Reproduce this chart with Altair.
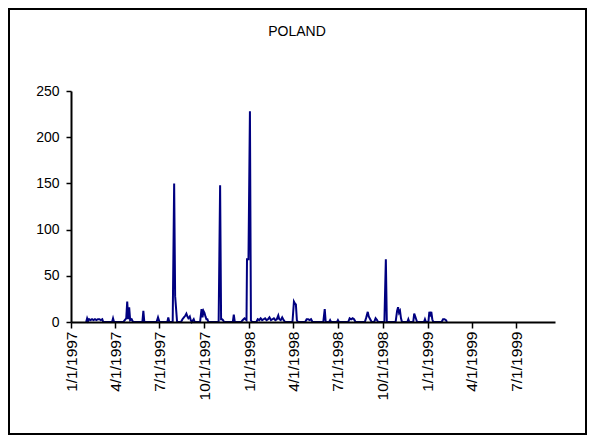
import altair as alt
import pandas as pd

# ---- data ----
dates = [
    "1997-02-01", "1997-02-03", "1997-02-05", "1997-02-07", "1997-02-10", "1997-02-13",
    "1997-02-16", "1997-02-19", "1997-02-22", "1997-02-25", "1997-02-28", "1997-03-03",
    "1997-03-06", "1997-03-08", "1997-03-26", "1997-03-28", "1997-03-30", "1997-04-18",
    "1997-04-21", "1997-04-24", "1997-04-26", "1997-04-28", "1997-04-30", "1997-05-02",
    "1997-05-05", "1997-05-08", "1997-05-27", "1997-05-29", "1997-05-31", "1997-06-25",
    "1997-06-28", "1997-07-01", "1997-07-17", "1997-07-19", "1997-07-21", "1997-07-28",
    "1997-07-31", "1997-08-02", "1997-08-06", "1997-08-14", "1997-08-17", "1997-08-20",
    "1997-08-23", "1997-08-25", "1997-08-27", "1997-08-29", "1997-09-01", "1997-09-03",
    "1997-09-05", "1997-09-09", "1997-09-11", "1997-09-22", "1997-09-25", "1997-09-27",
    "1997-09-29", "1997-10-01", "1997-10-03", "1997-10-05", "1997-10-07", "1997-10-09",
    "1997-10-30", "1997-11-02", "1997-11-04", "1997-11-06", "1997-11-08", "1997-11-10",
    "1997-11-28", "1997-11-30", "1997-12-02", "1997-12-15", "1997-12-18", "1997-12-20",
    "1997-12-22", "1997-12-24", "1997-12-26", "1997-12-27", "1997-12-30", "1998-01-02",
    "1998-01-04", "1998-01-06", "1998-01-15", "1998-01-18", "1998-01-21", "1998-01-24",
    "1998-01-27", "1998-01-30", "1998-02-02", "1998-02-05", "1998-02-08", "1998-02-11",
    "1998-02-14", "1998-02-17", "1998-02-20", "1998-02-23", "1998-02-26", "1998-03-01",
    "1998-03-03", "1998-03-06", "1998-03-09", "1998-03-12", "1998-03-15", "1998-03-30",
    "1998-04-02", "1998-04-04", "1998-04-06", "1998-04-08", "1998-04-10", "1998-04-25",
    "1998-04-28", "1998-05-01", "1998-05-04", "1998-05-07", "1998-05-10", "1998-06-01",
    "1998-06-04", "1998-06-06", "1998-06-13", "1998-06-15", "1998-06-17", "1998-06-29",
    "1998-07-01", "1998-07-03", "1998-07-22", "1998-07-25", "1998-07-28", "1998-07-31",
    "1998-08-03", "1998-08-06", "1998-08-25", "1998-08-28", "1998-08-31", "1998-09-02",
    "1998-09-05", "1998-09-08", "1998-09-13", "1998-09-16", "1998-09-19", "1998-09-21",
    "1998-10-04", "1998-10-07", "1998-10-09", "1998-10-27", "1998-10-30", "1998-11-01",
    "1998-11-03", "1998-11-05", "1998-11-07", "1998-11-09", "1998-11-20", "1998-11-22",
    "1998-11-24", "1998-12-02", "1998-12-04", "1998-12-06", "1998-12-08", "1998-12-10",
    "1998-12-24", "1998-12-26", "1998-12-28", "1999-01-02", "1999-01-04", "1999-01-06",
    "1999-01-08", "1999-01-10", "1999-01-12", "1999-01-29", "1999-02-01", "1999-02-04",
    "1999-02-07", "1999-02-09",
]
values = [
    0, 4, 1, 3, 2, 3,
    2, 3, 2, 3, 3, 2,
    3, 0, 0, 4, 0, 0,
    2, 4, 22, 3, 16, 2,
    3, 0, 0, 12, 0, 0,
    5, 0, 0, 5, 0, 0,
    150, 28, 0, 0, 3, 5,
    7, 9, 6, 4, 6, 2,
    0, 3, 0, 0, 14, 5,
    12, 10, 6, 3, 3, 0,
    0, 148, 3, 3, 2, 0,
    0, 8, 0, 0, 2, 3,
    4, 3, 2, 68, 68, 228,
    2, 0, 0, 3, 2, 4,
    2, 3, 4, 2, 3, 5,
    2, 3, 4, 2, 3, 7,
    3, 2, 5, 2, 0, 0,
    22, 20, 19, 2, 0, 0,
    3, 3, 2, 3, 0, 0,
    14, 0, 0, 2, 0, 0,
    2, 0, 0, 4, 3, 4,
    3, 0, 0, 5, 11, 6,
    3, 0, 0, 4, 2, 0,
    0, 68, 0, 0, 12, 16,
    10, 12, 4, 0, 0, 3,
    0, 0, 9, 6, 3, 0,
    0, 3, 0, 0, 11, 8,
    11, 3, 0, 0, 3, 3,
    2, 0,
]
tick_dates = [
    "1997-01-01", "1997-04-01", "1997-07-01", "1997-10-01",
    "1998-01-01", "1998-04-01", "1998-07-01", "1998-10-01",
    "1999-01-01", "1999-04-01", "1999-07-01",
]
y_ticks = [0, 50, 100, 150, 200, 250]
title_text = ["POLAND"]

df = pd.DataFrame({"date": pd.to_datetime(dates), "value": values})


def dt(s):
    y, m, d = (int(p) for p in s.split("-"))
    return alt.DateTime(year=y, month=m, date=d)


FONT = "Liberation Sans"
W, H = 484, 231

line = alt.Chart(df).mark_line(color="#000080", strokeWidth=2).encode(
    x=alt.X(
        "date:T",
        title=None,
        scale=alt.Scale(domain=[dt("1997-01-01"), dt("1999-09-18")], nice=False),
        axis=alt.Axis(
            values=[dt(s) for s in tick_dates],
            format="%-m/%-d/%Y",
            labelAngle=-90,
            labelFont=FONT,
            labelFontSize=15.5,
            labelColor="black",
            labelPadding=3,
            domainColor="black",
            domainWidth=2,
            tickColor="black",
            tickWidth=1.5,
            tickSize=6,
            grid=False,
            zindex=1,
        ),
    ),
    y=alt.Y(
        "value:Q",
        title=None,
        scale=alt.Scale(domain=[0, 250], nice=False),
        axis=alt.Axis(
            values=y_ticks,
            labelFont=FONT,
            labelFontSize=14,
            labelColor="black",
            labelPadding=7,
            domainColor="black",
            domainWidth=2,
            tickColor="black",
            tickWidth=1.5,
            tickSize=5,
            grid=False,
            zindex=1,
        ),
    ),
)

box = alt.Chart(pd.DataFrame({"k": [0]})).mark_rect(
    fill=None, stroke="black", strokeWidth=2
).encode(
    x=alt.value(-62), x2=alt.value(515), y=alt.value(-82), y2=alt.value(343)
)

title = alt.Chart(pd.DataFrame({"t": title_text})).mark_text(
    font=FONT, fontSize=14, color="black", align="center", baseline="middle"
).encode(
    text="t:N", x=alt.value(226), y=alt.value(-59)
)

chart = alt.layer(box, title, line).properties(
    width=W,
    height=H,
    autosize=alt.AutoSizeParams(type="none"),
    padding={"left": 63, "top": 83, "right": 32, "bottom": 113},
).configure_view(stroke=None)

chart.save("out.html", embed_options={"renderer": "svg", "actions": False})
